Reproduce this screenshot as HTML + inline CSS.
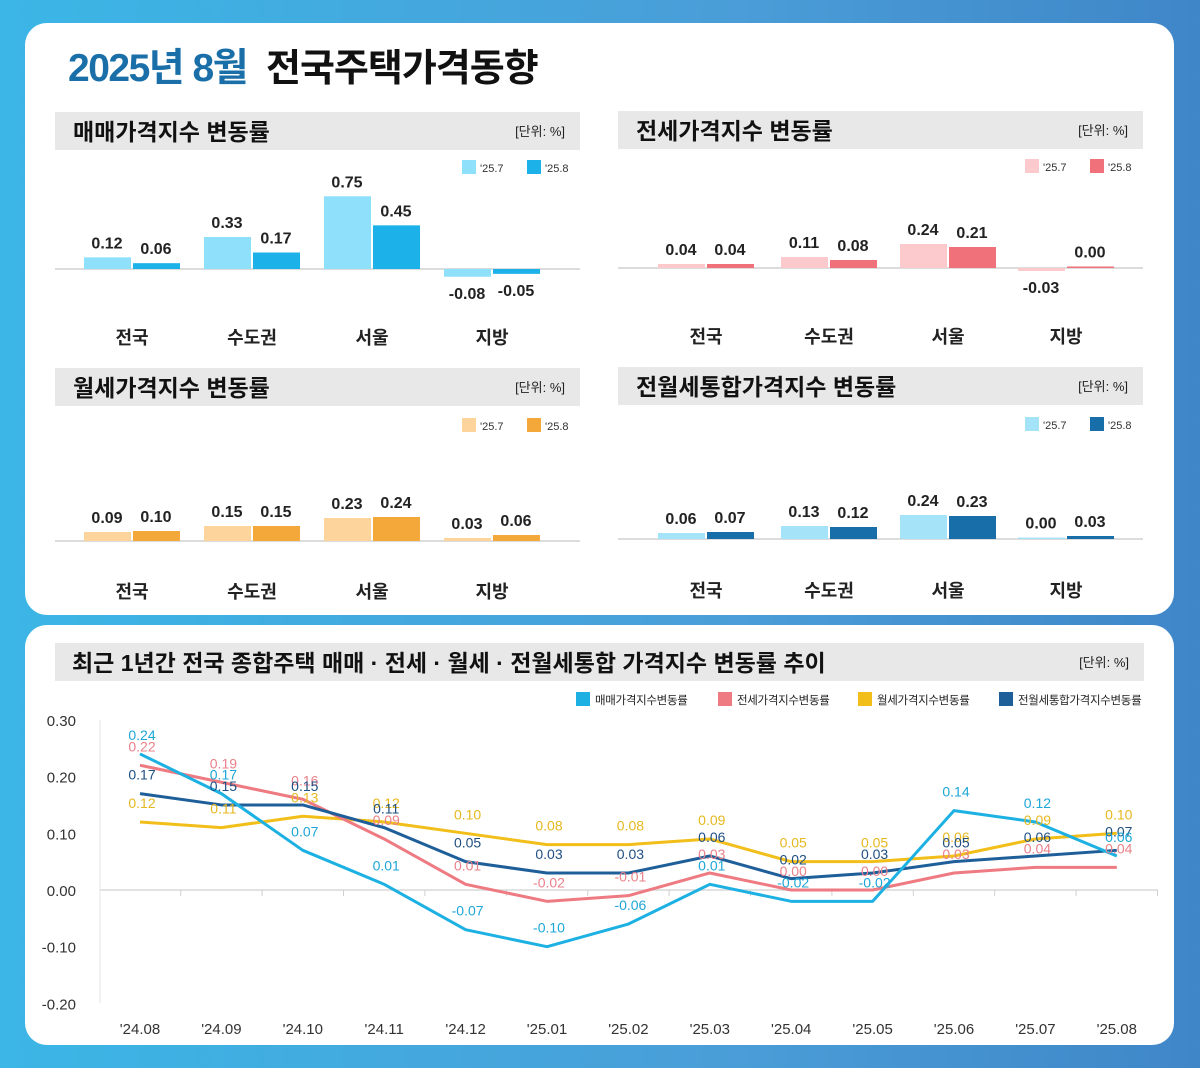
<!DOCTYPE html>
<html><head><meta charset="utf-8">
<style>
html,body{margin:0;padding:0;width:1200px;height:1068px;overflow:hidden;}
body{background:linear-gradient(90deg,#3bb6e6 0%,#4a9ed8 60%,#3f86c8 100%);font-family:"Liberation Sans","Noto Sans CJK KR",sans-serif;}
svg text{font-family:"Liberation Sans","Noto Sans CJK KR",sans-serif;}
</style></head>
<body>
<svg id="root" width="1200" height="1068" viewBox="0 0 1200 1068">
  <rect x="25" y="23" width="1149" height="592" rx="22" fill="#fff"/>
  <rect x="25" y="625" width="1149" height="420" rx="22" fill="#fff"/>
  <text x="68" y="81" font-size="39" font-weight="bold" fill="#1a6fa8" letter-spacing="-1.5">2025년 8월</text>
  <text x="266" y="81" font-size="38" font-weight="bold" fill="#111" letter-spacing="-1">전국주택가격동향</text>
  <g id="bars"></g>
  <g id="line"></g>
</svg>
<script>
// ---- bar chart data ----
const barCategories = ['전국','수도권','서울','지방'];
const saleJul = [0.12,0.33,0.75,-0.08];
const saleAug = [0.06,0.17,0.45,-0.05];
const jeonseJul = [0.04,0.11,0.24,-0.03];
const jeonseAug = [0.04,0.08,0.21,0.00];
const wolseJul = [0.09,0.15,0.23,0.03];
const wolseAug = [0.10,0.15,0.24,0.06];
const combJul = [0.06,0.13,0.24,0.00];
const combAug = [0.07,0.12,0.23,0.03];
const barLegend = ["'25.7","'25.8"];

// ---- line chart data ----
const months = ["'24.08","'24.09","'24.10","'24.11","'24.12","'25.01","'25.02","'25.03","'25.04","'25.05","'25.06","'25.07","'25.08"];
const saleSeries = [0.24,0.17,0.07,0.01,-0.07,-0.10,-0.06,0.01,-0.02,-0.02,0.14,0.12,0.06];
const jeonseSeries = [0.22,0.19,0.16,0.09,0.01,-0.02,-0.01,0.03,0.00,0.00,0.03,0.04,0.04];
const wolseSeries = [0.12,0.11,0.13,0.12,0.10,0.08,0.08,0.09,0.05,0.05,0.06,0.09,0.10];
const combSeries = [0.17,0.15,0.15,0.11,0.05,0.03,0.03,0.06,0.02,0.03,0.05,0.06,0.07];
const yTicks = [0.30,0.20,0.10,0.00,-0.10,-0.20];
const seriesNames = ['매매가격지수변동률','전세가격지수변동률','월세가격지수변동률','전월세통합가격지수변동률'];

const NS='http://www.w3.org/2000/svg';
function mk(parent,tag,attrs,text){const e=document.createElementNS(NS,tag);for(const k in attrs)e.setAttribute(k,attrs[k]);if(text!==undefined)e.textContent=text;parent.appendChild(e);return e;}

const barsG=document.getElementById('bars');
const panels=[
 {title:'매매가격지수 변동률',hx:55,hy:112,base:269,labY:344,centers:[132,252,372,492],scale:97,jul:saleJul,aug:saleAug,c1:'#8fe1fb',c2:'#1cb1e9',lx:462,ly:160,id:'sale'},
 {title:'전세가격지수 변동률',hx:618,hy:111,base:268,labY:343,centers:[706,829,948,1066],scale:100,jul:jeonseJul,aug:jeonseAug,c1:'#fcc9cd',c2:'#f07179',lx:1025,ly:159,id:'jeonse'},
 {title:'월세가격지수 변동률',hx:55,hy:368,base:541,labY:598,centers:[132,252,372,492],scale:100,jul:wolseJul,aug:wolseAug,c1:'#fdd49c',c2:'#f5a83a',lx:462,ly:418,id:'wolse'},
 {title:'전월세통합가격지수 변동률',hx:618,hy:367,base:539,labY:597,centers:[706,829,948,1066],scale:100,jul:combJul,aug:combAug,c1:'#a5e3f8',c2:'#176ea8',lx:1025,ly:417,id:'combined'}
];
panels.forEach(p=>{
  const g=mk(barsG,'g',{});
  
  
  const h=mk(g,'rect',{x:p.hx,y:p.hy,width:525,height:38,fill:'#e8e8e8'});
  
  
  const t=mk(g,'text',{x:p.hx+18,y:p.hy+28,'font-size':23,'font-weight':'bold',fill:'#111'},p.title);
  
  
  const u=mk(g,'text',{x:p.hx+510,y:p.hy+24,'font-size':13,fill:'#222','text-anchor':'end'},'[단위: %]');
  
  
  [p.c1,p.c2].forEach((c,i)=>{
    const lx=p.lx+i*65;
    const r=mk(g,'rect',{x:lx,y:p.ly,width:14,height:14,fill:c});
    
    
    const lt=mk(g,'text',{x:lx+18,y:p.ly+12,'font-size':11,fill:'#333'},barLegend[i]);
    
    
  });
  const ax=mk(g,'line',{x1:p.hx,x2:p.hx+525,y1:p.base,y2:p.base,stroke:'#d0d0d0','stroke-width':1.5});
  
  
  barCategories.forEach((cat,i)=>{
    const cx=p.centers[i];
    [[p.jul[i],p.c1,cx-48],[p.aug[i],p.c2,cx+1]].forEach(([v,c,x],j)=>{
      const hgt=Math.max(Math.abs(v)*p.scale,v===0?1.5:0);
      const y=v>=0?p.base-hgt:p.base;
      const b=mk(g,'rect',{x:x,y:y,width:47,height:Math.max(hgt,1.5),fill:c});
      
      
      const ty=v>=0?y-9:p.base+hgt+22;
      const vt=mk(g,'text',{x:x+23,y:ty,'font-size':16,'font-weight':'bold',fill:'#222','text-anchor':'middle'},v.toFixed(2));
      
      
    });
    const ct=mk(g,'text',{x:cx,y:p.labY,'font-size':18,'font-weight':'bold',fill:'#222','text-anchor':'middle'},cat);
    
    
  });
});

// ---- line chart ----
const lineG=document.getElementById('line');
const hdr=mk(lineG,'rect',{x:55,y:643,width:1089,height:38,fill:'#e8e8e8'});


const lt=mk(lineG,'text',{x:72,y:671,'font-size':23,'font-weight':'bold',fill:'#111'},'최근 1년간 전국 종합주택 매매 · 전세 · 월세 · 전월세통합 가격지수 변동률 추이');


const lu=mk(lineG,'text',{x:1129,y:667,'font-size':13,fill:'#222','text-anchor':'end'},'[단위: %]');


const colors=['#1cb1e2','#ee7a82','#f2be1a','#1f5f99'];
const lcolors=['#1ea6d8','#e9808a','#e6b820','#1f4f82'];
const legX=[576,718,858,999];
seriesNames.forEach((n,i)=>{
  const r=mk(lineG,'rect',{x:legX[i],y:692,width:14,height:14,fill:colors[i]});
  
  
  const t=mk(lineG,'text',{x:legX[i]+19,y:704,'font-size':11.5,fill:'#222','letter-spacing':-0.3},n);
  
  
});
const yPx=v=>890-v*567;
const xPx=i=>140+i*81.4;
const axis=mk(lineG,'line',{x1:100,x2:1158,y1:yPx(0),y2:yPx(0),stroke:'#d8d8d8','stroke-width':1.5});


const yax=mk(lineG,'line',{x1:100,x2:100,y1:yPx(0.3),y2:yPx(-0.2),stroke:'#e4e4e4','stroke-width':1});


yTicks.forEach((v,i)=>{
  const t=mk(lineG,'text',{x:76,y:yPx(v)+6,'font-size':15,fill:'#333','text-anchor':'end'},v.toFixed(2));
  
  
});
months.forEach((m,i)=>{
  const tk=mk(lineG,'line',{x1:xPx(i)+40.7,x2:xPx(i)+40.7,y1:yPx(0),y2:yPx(0)+6,stroke:'#d0d0d0'});
  
  
  const t=mk(lineG,'text',{x:xPx(i),y:1034,'font-size':15,fill:'#333','text-anchor':'middle'},m);
  
  
});
const allSeries=[saleSeries,jeonseSeries,wolseSeries,combSeries];
[2,1,3,0].forEach(s=>{
  const data=allSeries[s];
  const pts=data.map((v,i)=>xPx(i)+','+yPx(v)).join(' ');
  const pl=mk(lineG,'polyline',{points:pts,fill:'none',stroke:colors[s],'stroke-width':3,'stroke-linejoin':'round'});
  
  
});
[2,1,3,0].forEach(s=>{
  const data=allSeries[s];
  data.forEach((v,i)=>{
    const t=mk(lineG,'text',{x:xPx(i)+2,y:yPx(v)-14,'font-size':14,fill:lcolors[s],'text-anchor':'middle'},v.toFixed(2));
    
    
  });
});
</script>
</body></html>
